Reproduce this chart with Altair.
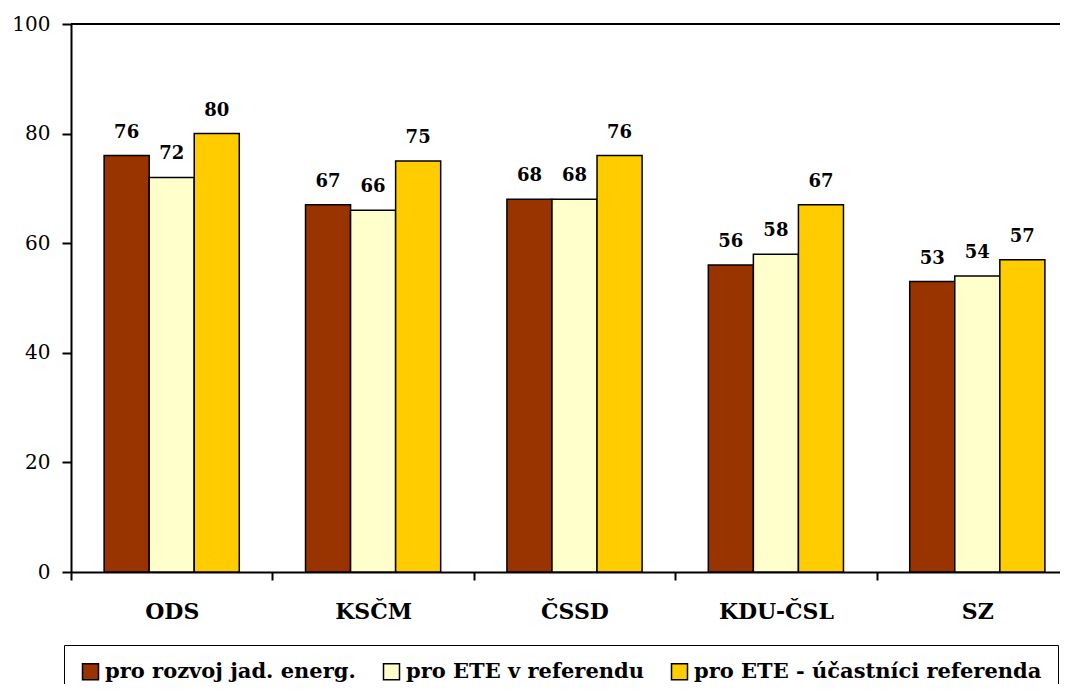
import altair as alt
import pandas as pd

parties = ["ODS", "KSČM", "ČSSD", "KDU-ČSL", "SZ"]
series = ["pro rozvoj jad. energ.", "pro ETE v referendu", "pro ETE - účastníci referenda"]
s1 = [76, 67, 68, 56, 53]
s2 = [72, 66, 68, 58, 54]
s3 = [80, 75, 76, 67, 57]
colors = ["#993300", "#FFFFCC", "#FFCC00"]
y_ticks = [0, 20, 40, 60, 80, 100]

rows = []
for name, vals in zip(series, [s1, s2, s3]):
    for p, v in zip(parties, vals):
        rows.append({"party": p, "series": name, "value": v})
df = pd.DataFrame(rows)

FONT = "DejaVu Serif"

x = alt.X(
    "party:N", sort=parties, title=None,
    scale=alt.Scale(paddingInner=0, paddingOuter=0),
    axis=alt.Axis(labelAngle=0, labelFont=FONT, labelFontSize=22, labelFontWeight="bold",
                  labelColor="black", tickBand="extent", tickSize=8, tickColor="black",
                  tickWidth=2, domainColor="black", domainWidth=2, labelPadding=21),
)
xo = alt.XOffset("series:N", sort=series, scale=alt.Scale(paddingInner=0, paddingOuter=0.735))
y = alt.Y(
    "value:Q", title=None, scale=alt.Scale(domain=[0, 100], nice=False),
    axis=alt.Axis(values=y_ticks, grid=False, labelFont=FONT, labelFontSize=20,
                  labelColor="black", tickSize=9, tickColor="black", tickWidth=2,
                  domainColor="black", domainWidth=2, labelPadding=12),
)
color = alt.Color(
    "series:N", sort=series, scale=alt.Scale(domain=series, range=colors),
    legend=alt.Legend(orient="none", legendX=-7, legendY=621, direction="horizontal",
                      columns=3, title=None, symbolType="square", symbolSize=256,
                      symbolStrokeColor="black", symbolStrokeWidth=1.5,
                      labelFont=FONT, labelFontSize=21, labelFontWeight="bold",
                      labelColor="black", labelOffset=4, labelLimit=500,
                      columnPadding=24, padding=16, strokeColor="black"),
)

base = alt.Chart(df)
bars = base.mark_bar(stroke="black", strokeWidth=1.5).encode(x=x, xOffset=xo, y=y, color=color)
labels = base.mark_text(font=FONT, fontSize=18, fontWeight="bold", baseline="alphabetic",
                        dy=-18, color="black").encode(x=x, xOffset=xo, y=y, text="value:Q")
top = alt.Chart(pd.DataFrame({"v": [100]})).mark_rule(color="black", strokeWidth=2).encode(
    y=alt.Y("v:Q", title=None))

chart = alt.layer(bars, labels, top).properties(
    width=1007, height=548,
    autosize=alt.AutoSizeParams(type="none"),
    padding={"left": 63, "top": 16, "right": -18, "bottom": 112},
).configure_view(strokeWidth=0)

chart.save("out.html", embed_options={"renderer": "svg", "actions": False})
